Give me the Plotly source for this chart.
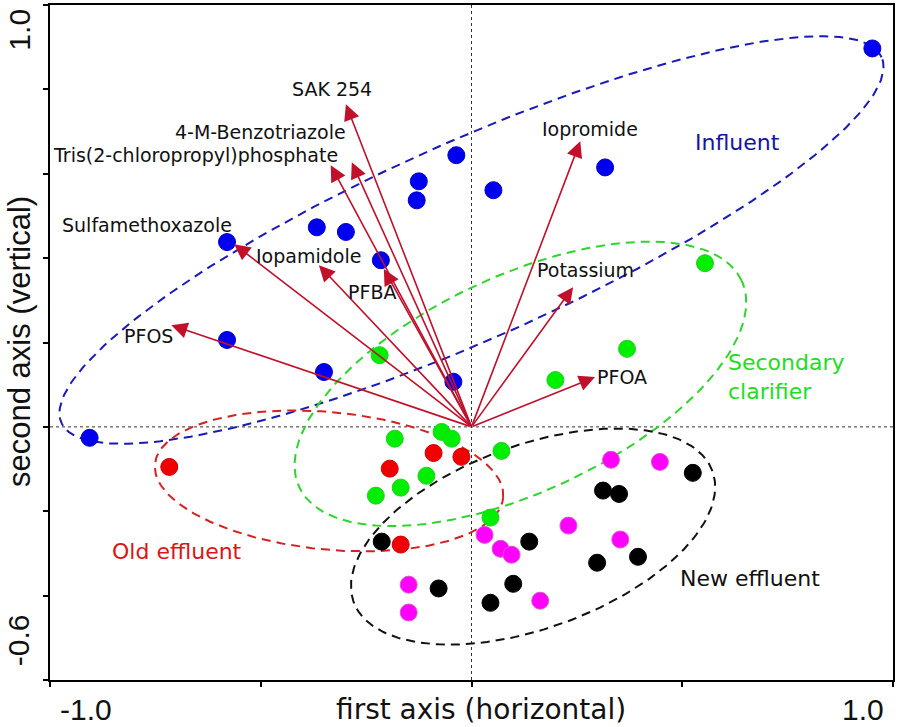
import numpy as np
import plotly.graph_objects as go

# ---------------- data ----------------
influent_x = [0.951, -0.906, -0.580, -0.580, -0.350, -0.367, -0.298, -0.125, -0.130, -0.036, 0.052, 0.317, -0.215, -0.043]
influent_y = [0.897, -0.026, 0.438, 0.206, 0.130, 0.473, 0.462, 0.582, 0.537, 0.644, 0.561, 0.615, 0.395, 0.107]

secondary_x = [0.554, 0.369, 0.199, -0.218, -0.182, -0.071, -0.047, 0.071, -0.107, -0.168, -0.227, 0.045]
secondary_y = [0.388, 0.185, 0.111, 0.170, -0.028, -0.012, -0.028, -0.057, -0.116, -0.144, -0.163, -0.215]

old_x = [-0.717, -0.090, -0.024, -0.194, -0.168]
old_y = [-0.095, -0.062, -0.071, -0.099, -0.279]

new_mag_x = [0.331, 0.447, 0.230, 0.353, 0.031, 0.069, 0.095, -0.149, -0.149, 0.163]
new_mag_y = [-0.078, -0.083, -0.234, -0.267, -0.256, -0.289, -0.303, -0.374, -0.440, -0.412]

new_blk_x = [0.525, 0.312, 0.350, 0.137, -0.213, 0.395, 0.298, -0.078, 0.099, 0.045]
new_blk_y = [-0.109, -0.151, -0.159, -0.272, -0.272, -0.308, -0.322, -0.383, -0.372, -0.417]

vec_names = ["SAK 254", "4-M-Benzotriazole", "Tris(2-chloropropyl)phosphate", "Sulfamethoxazole",
             "Iopamidole", "PFBA", "PFOS", "Iopromide", "Potassium", "PFOA"]
vec_x = [-0.298, -0.284, -0.334, -0.563, -0.362, -0.208, -0.712, 0.258, 0.241, 0.293]
vec_y = [0.765, 0.627, 0.620, 0.433, 0.383, 0.374, 0.241, 0.677, 0.331, 0.118]

# ellipse parameters: centre x, centre y, semi-major, semi-minor, angle (deg)
ell_influent = [0.000, 0.443, 1.065, 0.234, 24.0]
ell_secondary = [0.116, 0.102, 0.579, 0.256, 25.0]
ell_old = [-0.338, -0.128, 0.415, 0.163, -5.5]
ell_new = [0.146, -0.260, 0.453, 0.217, 20.0]

x_tick_labels = ["-1.0", "1.0"]
y_tick_labels = ["-0.6", "1.0"]

# ---------------- style / layout ----------------
# label offsets (pixels) from arrow tip to label centre
label_shift = [(-14, 15), (-91, 30), (-135, 10), (-87, 19), (-10, 9),
               (-12, -23), (-23, -11), (10, 12), (12, 17), (27, 0)]

ARROW = "#C0102A"
LABEL_FONT = "DejaVu Sans"


def ellipse(p, n=240):
    cx, cy, a, b, ang = p
    t = np.linspace(0, 2 * np.pi, n)
    th = np.deg2rad(ang)
    ex = cx + a * np.cos(t) * np.cos(th) - b * np.sin(t) * np.sin(th)
    ey = cy + a * np.cos(t) * np.sin(th) + b * np.sin(t) * np.cos(th)
    return ex, ey


fig = go.Figure()

for p, col in [(ell_influent, "#1A1AB8"), (ell_secondary, "#2FD52F"),
               (ell_old, "#D42222"), (ell_new, "#111111")]:
    ex, ey = ellipse(p)
    fig.add_trace(go.Scatter(x=ex, y=ey, mode="lines",
                             line=dict(color=col, width=2, dash="9px,6px"),
                             hoverinfo="skip", showlegend=False))

for xs, ys, col, lc in [(influent_x, influent_y, "#0000F0", "#0000C8"),
                        (secondary_x, secondary_y, "#00EE00", "#20D020"),
                        (old_x, old_y, "#F00000", "#D00000"),
                        (new_mag_x, new_mag_y, "#FF00FF", "#E050D0"),
                        (new_blk_x, new_blk_y, "#000000", "#000000")]:
    fig.add_trace(go.Scatter(x=xs, y=ys, mode="markers",
                             marker=dict(size=17, color=col, line=dict(color=lc, width=1)),
                             showlegend=False))

annotations = []
for name, vx, vy, (sx, sy) in zip(vec_names, vec_x, vec_y, label_shift):
    annotations.append(dict(x=vx, y=vy, ax=0, ay=0, xref="x", yref="y", axref="x", ayref="y",
                            text="", showarrow=True, arrowhead=2, arrowsize=2.0,
                            arrowwidth=1.6, arrowcolor=ARROW, standoff=0, startstandoff=0))
    annotations.append(dict(x=vx, y=vy, xref="x", yref="y", text=name, showarrow=False,
                            xshift=sx, yshift=sy, xanchor="center", yanchor="middle",
                            font=dict(family=LABEL_FONT, size=19, color="#111111")))

# group labels
annotations += [
    dict(x=0.632, y=0.675, xref="x", yref="y", text="Influent", showarrow=False,
         xanchor="center", yanchor="middle",
         font=dict(family=LABEL_FONT, size=22, color="#1414A0")),
    dict(x=0.604, y=0.118, xref="x", yref="y", text="Secondary<br>clarifier", showarrow=False,
         xanchor="left", yanchor="middle", align="left",
         font=dict(family=LABEL_FONT, size=22, color="#22DD22")),
    dict(x=-0.698, y=-0.296, xref="x", yref="y", text="Old effluent", showarrow=False,
         xanchor="center", yanchor="middle",
         font=dict(family=LABEL_FONT, size=22, color="#DD1515")),
    dict(x=0.660, y=-0.360, xref="x", yref="y", text="New effluent", showarrow=False,
         xanchor="center", yanchor="middle",
         font=dict(family=LABEL_FONT, size=22, color="#111111")),
]

AX = dict(family="Liberation Sans", size=30, color="#111111")
YB = -0.0435  # paper y for the bottom text row
# axis titles and end tick labels
annotations += [
    dict(x=0.511, y=YB, xref="paper", yref="paper", text="first axis (horizontal)",
         showarrow=False, xanchor="center", yanchor="middle",
         font=dict(family=LABEL_FONT, size=28, color="#111111")),
    dict(x=-0.037, y=0.502, xref="paper", yref="paper", text="second axis (vertical)",
         showarrow=False, textangle=-90, xanchor="center", yanchor="middle",
         font=dict(family="Liberation Sans", size=31, color="#111111")),
    dict(x=0.043, y=YB, xref="paper", yref="paper", text=x_tick_labels[0], showarrow=False,
         xanchor="center", yanchor="middle", font=AX),
    dict(x=0.965, y=YB, xref="paper", yref="paper", text=x_tick_labels[1], showarrow=False,
         xanchor="center", yanchor="middle", font=AX),
    dict(x=-0.038, y=0.059, xref="paper", yref="paper", text=y_tick_labels[0], showarrow=False,
         xanchor="center", yanchor="middle", textangle=-90, font=AX),
    dict(x=-0.036, y=0.963, xref="paper", yref="paper", text=y_tick_labels[1], showarrow=False,
         xanchor="center", yanchor="middle", textangle=-90, font=AX),
]

shapes = [
    dict(type="line", x0=0, x1=0, y0=-0.6, y1=1.0, xref="x", yref="y", layer="below",
         line=dict(color="#333333", width=1, dash="dot")),
    dict(type="line", x0=-1, x1=1, y0=0, y1=0, xref="x", yref="y", layer="below",
         line=dict(color="#333333", width=1, dash="dot")),
]

fig.update_layout(
    width=898, height=727,
    margin=dict(l=50, r=3, t=3, b=47),
    paper_bgcolor="white", plot_bgcolor="white",
    showlegend=False,
    annotations=annotations, shapes=shapes,
    xaxis=dict(range=[-1.0, 1.0], dtick=0.5, tick0=-1.0, showgrid=False, zeroline=False,
               showline=True, linecolor="black", linewidth=2, mirror=True,
               ticks="outside", ticklen=5, tickwidth=1.5, tickcolor="black",
               showticklabels=False),
    yaxis=dict(range=[-0.6, 1.0], dtick=0.2, tick0=-0.6, showgrid=False, zeroline=False,
               showline=True, linecolor="black", linewidth=2, mirror=True,
               ticks="outside", ticklen=5, tickwidth=1.5, tickcolor="black",
               showticklabels=False),
)

fig.write_html("out.html", config={"displayModeBar": False},
               post_script="document.body.style.margin='0';document.body.style.padding='0';")
